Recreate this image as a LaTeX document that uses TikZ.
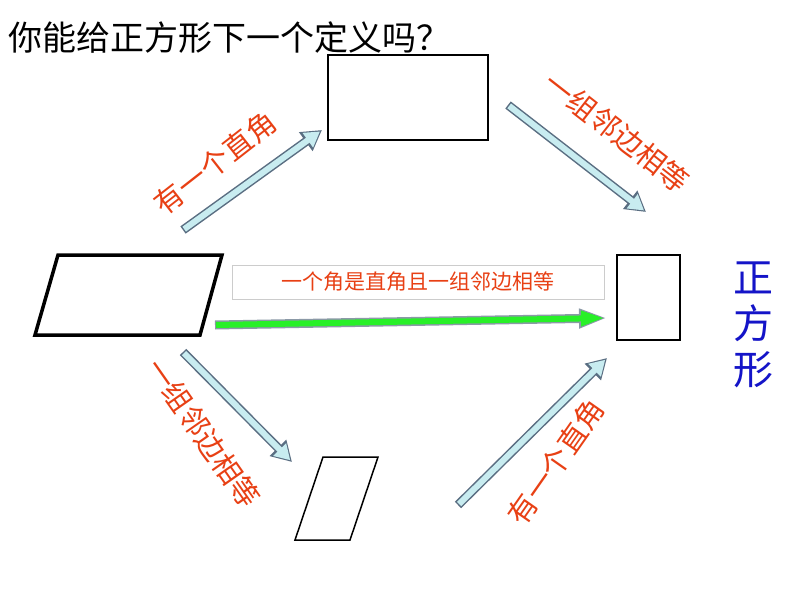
\documentclass[tikz,border=0pt]{standalone}
\usepackage{fontspec}
\setmainfont{Noto Sans CJK SC}
\usetikzlibrary{arrows.meta,calc}
\definecolor{lbl}{RGB}{232,64,20}
\definecolor{sq}{RGB}{20,20,200}
\definecolor{acyan}{RGB}{200,236,240}
\definecolor{aedge}{RGB}{90,110,130}
\definecolor{agreen}{RGB}{40,240,40}
\tikzset{
  redlbl/.style={text=lbl,font=\fontsize{29}{31}\selectfont,inner sep=0pt},
  shapeline/.style={draw=black,line width=1.5pt},
  bigarrow/.style={line width=9pt,draw=aedge,-{Triangle[length=20pt,width=22pt]}},
  bigarrowin/.style={line width=6pt,draw=acyan,-{Triangle[length=15pt,width=17pt]},shorten >=2.5pt,shorten <=1.5pt},
}
\begin{document}
\begin{tikzpicture}[x=1pt,y=-1pt]
\useasboundingbox[fill=white] (0,0) rectangle (794,596);
\node[anchor=west,font=\fontsize{34}{36}\selectfont,inner sep=0pt] (title) at (8,38) {你能给正方形下一个定义吗？};
% shapes
\draw[shapeline] (328,55) rectangle (488,140);
\draw[black,line width=3.5pt,line join=miter] (58,255) -- (222,255) -- (200,335) -- (35,335) -- cycle;
\draw[shapeline] (617,255) rectangle (680,340);
\draw[shapeline] (323,457) -- (378,457) -- (350,540) -- (295,540) -- cycle;
\node[text=sq,font=\fontsize{40}{42}\selectfont,align=center,inner sep=0pt] (sqname) at (753,325) {正\\[4pt]方\\[4pt]形};
% arrows
\coordinate (a1) at (183,230); \coordinate (b1) at (322,130);
\coordinate (a2) at (508,105); \coordinate (b2) at (646,212);
\coordinate (a3) at (183,352); \coordinate (b3) at (292,462);
\coordinate (a4) at (458,505); \coordinate (b4) at (607,358);
\foreach \i in {1,2,3,4}{
  \draw[bigarrow] (a\i) -- (b\i);
  \draw[bigarrowin] (a\i) -- (b\i);
}
\coordinate (ga) at (215,325); \coordinate (gb) at (607,318);
\draw[line width=9pt,draw=aedge!70,-{Triangle[length=28pt,width=18pt]}] (ga) -- (gb);
\draw[line width=6pt,draw=agreen,-{Triangle[length=24pt,width=14pt]},shorten >=2pt,shorten <=1pt] (ga) -- (gb);
% labels
\node[redlbl,rotate=38] (l1) at (215,163) {有一个直角};
\node[redlbl,rotate=-38] (l2) at (617,132) {一组邻边相等};
\node[redlbl,rotate=-55] (l3) at (203,433) {一组邻边相等};
\node[redlbl,rotate=55] (l4) at (556,462) {有一个直角};
\node[draw=gray!40,fill=white,text=lbl,font=\fontsize{21}{23}\selectfont,minimum width=372pt,minimum height=34pt,inner sep=2pt] (mid) at (418,282) {一个角是直角且一组邻边相等};
\end{tikzpicture}
\end{document}
